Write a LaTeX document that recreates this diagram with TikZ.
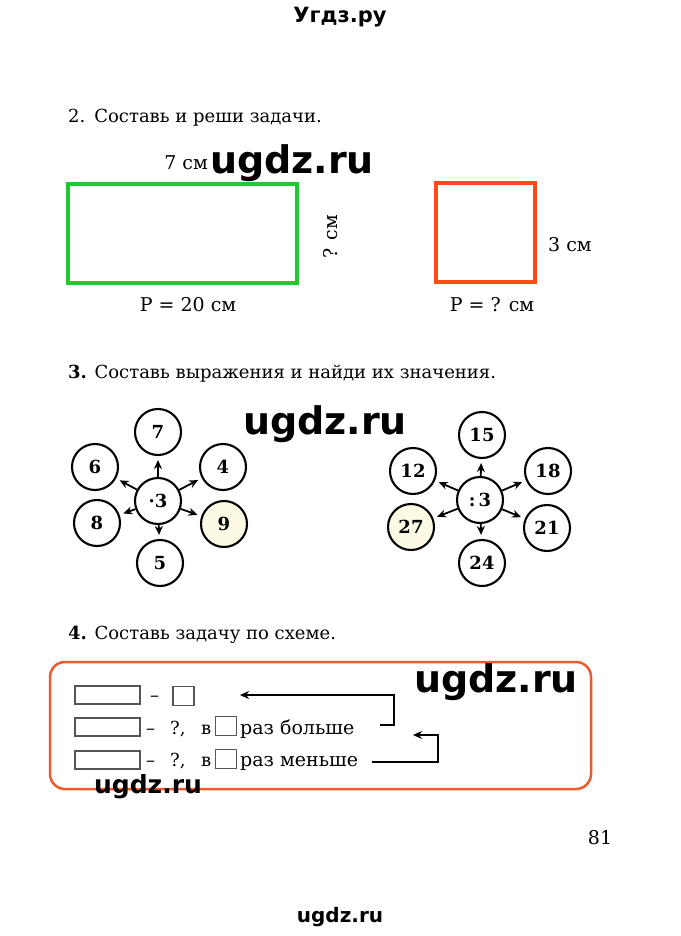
\documentclass[tikz,border=0pt]{standalone}
\usepackage{fontspec}
\setmainfont{DejaVu Serif}
\newfontfamily\wmfont{DejaVu Sans}
\usetikzlibrary{arrows.meta}
\definecolor{grn}{HTML}{22C832}
\definecolor{org}{HTML}{FF4A12}
\definecolor{boxorg}{HTML}{EE5A2A}
\definecolor{pale}{HTML}{FCF9E4}
\definecolor{gr}{HTML}{555555}
\begin{document}
\begin{tikzpicture}[x=1pt,y=-1pt,
  txt/.style={inner sep=0pt, anchor=base west, font=\fontsize{18}{18}\selectfont},
  lbl/.style={inner sep=0pt, font=\fontsize{19}{19}\selectfont},
  wm/.style={inner sep=0pt, anchor=base, font=\wmfont\bfseries\fontsize{#1}{#1}\selectfont},
  circ/.style={circle, draw, line width=2.1pt, minimum size=46pt, inner sep=0pt, font=\bfseries\fontsize{18}{18}\selectfont},
  arr/.style={-{Stealth[length=9pt,width=8pt]}, line width=1.8pt, shorten >=4pt},
  blank/.style={draw=gr, line width=1.6pt, minimum width=65pt, minimum height=18pt, inner sep=0pt},
  sq/.style={draw=gr, line width=1.6pt, minimum width=21pt, minimum height=19pt, inner sep=0pt},
  conn/.style={line width=1.8pt}
]
\useasboundingbox (0,0) rectangle (680,936);
\fill[white] (0,0) rectangle (680,936);

% header
\node[wm=21, anchor=center] (hdr) at (340,17) {Угдз.ру};

% section 2
\node[txt] (t2) at (68,123) {2.\enspace Составь и реши задачи.};
\node[draw=grn, line width=4.5pt, minimum width=229pt, minimum height=99pt, inner sep=0pt] (r1) at (182.5,233.5) {};
\node[lbl, anchor=base east] (a7) at (208,170) {7 см};
\node[lbl, rotate=90] (aq) at (331,237) {? см};
\node[lbl] (p1) at (188,305) {P = 20 см};
\node[draw=org, line width=4.5pt, minimum width=99pt, minimum height=99pt, inner sep=0pt] (r2) at (485.5,232.5) {};
\node[lbl, anchor=west] (a3) at (548,245) {3 см};
\node[lbl] (p2) at (492,305) {P = ? см};
\node[wm=38] (w1) at (292,174) {ugdz.ru};

% section 3
\node[txt] (t3) at (68,378) {\textbf{3.} Составь выражения и найди их значения.};
\node[wm=38] (w2) at (325,434) {ugdz.ru};

\node[circ] (c1) at (158,501) {·3};
\node[circ] (n7) at (158,432) {7};
\node[circ] (n6) at (95,467) {6};
\node[circ] (n4) at (223,467) {4};
\node[circ] (n8) at (97,523) {8};
\node[circ, fill=pale] (n9) at (224,524) {9};
\node[circ] (n5) at (160,563) {5};
\foreach \n in {n7,n6,n4,n8,n9,n5} \draw[arr] (c1) -- (\n);

\node[circ] (c2) at (480,500) {:\,3};
\node[circ] (n15) at (482,435) {15};
\node[circ] (n12) at (413,471) {12};
\node[circ] (n18) at (548,471) {18};
\node[circ, fill=pale] (n27) at (411,527) {27};
\node[circ] (n21) at (547,528) {21};
\node[circ] (n24) at (482,563) {24};
\foreach \n in {n15,n12,n18,n27,n21,n24} \draw[arr] (c2) -- (\n);

% section 4
\node[txt] (t4) at (68,639) {\textbf{4.} Составь задачу по схеме.};
\draw[boxorg, line width=2.5pt, rounded corners=15pt] (50,662) rectangle (591,789);

\node[blank] (b1) at (107.5,695) {};
\node[txt] (d1) at (150,701) {–};
\node[sq] (s1) at (183.5,696) {};

\node[blank] (b2) at (107.5,727) {};
\node[txt] (d2) at (146,734) {–};
\node[txt] (q2) at (170,734) {?,};
\node[txt] (v2) at (201,734) {в};
\node[sq] (s2) at (226,726) {};
\node[txt, font=\fontsize{19}{19}\selectfont] (e2) at (240,734) {раз больше};

\node[blank] (b3) at (107.5,760) {};
\node[txt] (d3) at (146,766) {–};
\node[txt] (q3) at (170,766) {?,};
\node[txt] (v3) at (201,766) {в};
\node[sq] (s3) at (226,759) {};
\node[txt, font=\fontsize{19}{19}\selectfont] (e3) at (240,766) {раз меньше};

\coordinate (k1) at (380,725);
\coordinate (k2) at (394,725);
\coordinate (k3) at (394,695);
\coordinate (k4) at (240,695);
\draw[conn, -{Stealth[length=9pt,width=8pt]}] (k1) -- (k2) -- (k3) -- (k4);
\coordinate (m1) at (372,762);
\coordinate (m2) at (438,762);
\coordinate (m3) at (438,735);
\coordinate (m4) at (413,735);
\draw[conn, -{Stealth[length=9pt,width=8pt]}] (m1) -- (m2) -- (m3) -- (m4);

\node[wm=38] (w3) at (496,692) {ugdz.ru};
\node[wm=25] (w4) at (148,793) {ugdz.ru};

\node[lbl] (pg) at (600,838) {81};
\node[wm=20] (w5) at (340,922) {ugdz.ru};
\end{tikzpicture}
\end{document}
